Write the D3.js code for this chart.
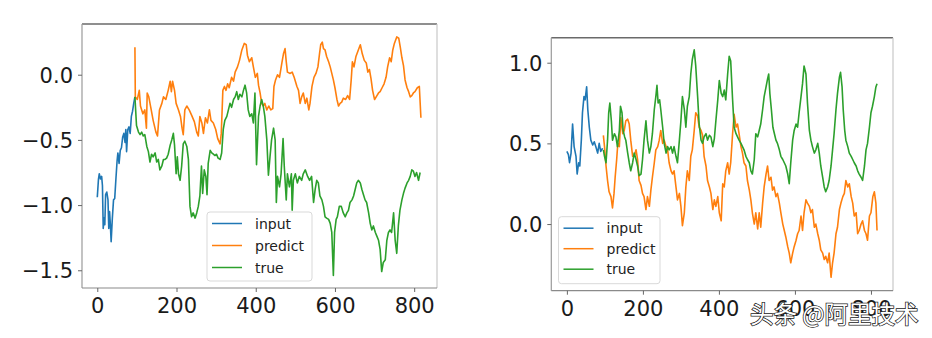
<!DOCTYPE html>
<html>
<head>
<meta charset="utf-8">
<script src="https://cdn.jsdelivr.net/npm/d3@7"></script>
<style>
  html, body { margin: 0; padding: 0; background: #fff; }
  svg { display: block; }
</style>
</head>
<body>
<svg id="chart" width="932" height="338"></svg>
<script>
// ---------------- DATA ----------------
const seriesNames = ["input", "predict", "true"];
const seriesColors = ["#1f77b4", "#ff7f0e", "#2ca02c"];
const xTickValues = [0, 200, 400, 600, 800];
const leftYTicks = [0.0, -0.5, -1.0, -1.5];
const rightYTicks = [0.0, 0.5, 1.0];
const watermarkText = "头条 @阿里技术";

// Left panel
const leftInput = [[0,-0.94],[3,-0.80],[5,-0.76],[8,-0.80],[11,-0.78],[13,-0.85],[15,-1.18],[17,-1.10],[19,-1.15],[21,-0.92],[24,-0.90],[27,-0.96],[29,-1.18],[31,-1.05],[33,-1.15],[35,-1.28],[38,-1.10],[41,-0.96],[44,-0.95],[47,-0.80],[50,-0.66],[52,-0.60],[55,-0.68],[58,-0.58],[61,-0.56],[64,-0.48],[67,-0.45],[70,-0.52],[72,-0.42],[74,-0.59],[77,-0.42],[80,-0.40],[83,-0.45],[86,-0.32],[89,-0.28],[92,-0.22],[95,-0.17]];

const leftPredict = [[95,0.21],[96,-0.17],[101,-0.19],[106,-0.12],[109,-0.24],[115,-0.30],[120,-0.27],[124,-0.41],[126,-0.14],[130,-0.17],[135,-0.25],[141,-0.35],[148,-0.44],[152,-0.47],[157,-0.27],[163,-0.22],[167,-0.17],[173,-0.19],[179,-0.12],[184,-0.05],[187,-0.13],[190,-0.05],[195,-0.12],[199,-0.22],[205,-0.27],[210,-0.32],[214,-0.41],[217,-0.46],[221,-0.27],[226,-0.24],[232,-0.27],[238,-0.31],[245,-0.36],[251,-0.44],[255,-0.47],[259,-0.32],[264,-0.37],[268,-0.45],[273,-0.33],[278,-0.37],[283,-0.27],[287,-0.35],[293,-0.37],[299,-0.42],[304,-0.49],[310,-0.53],[313,-0.45],[317,-0.12],[321,-0.09],[325,-0.12],[329,-0.07],[333,-0.10],[339,-0.02],[344,-0.05],[348,0.02],[354,0.06],[359,0.11],[365,0.19],[371,0.24],[376,0.23],[379,0.15],[384,0.10],[390,0.13],[394,0.06],[399,-0.02],[404,0.01],[407,-0.08],[411,-0.14],[415,-0.22],[419,-0.24],[423,-0.22],[428,-0.27],[433,-0.24],[438,-0.27],[443,-0.26],[446,-0.09],[450,-0.04],[455,0.00],[460,-0.02],[466,0.09],[470,0.16],[474,0.20],[477,0.10],[480,0.02],[487,0.01],[492,0.02],[497,-0.02],[504,-0.09],[508,-0.12],[512,-0.22],[516,-0.17],[520,-0.14],[525,-0.22],[529,-0.18],[534,-0.27],[537,-0.22],[542,-0.09],[547,-0.02],[552,0.01],[557,0.06],[561,0.16],[564,0.23],[568,0.25],[571,0.20],[575,0.19],[579,0.14],[584,0.10],[588,0.06],[592,0.01],[596,-0.04],[600,-0.10],[605,-0.19],[609,-0.24],[613,-0.22],[617,-0.21],[621,-0.18],[627,-0.19],[632,-0.16],[637,-0.19],[641,-0.04],[644,0.10],[648,0.06],[653,0.14],[659,0.19],[664,0.23],[669,0.16],[674,0.11],[679,0.09],[683,0.02],[687,0.04],[691,-0.03],[695,-0.12],[700,-0.19],[706,-0.16],[710,-0.14],[714,-0.13],[719,-0.10],[724,-0.07],[729,-0.02],[733,0.06],[738,0.13],[742,0.10],[746,0.19],[750,0.24],[756,0.29],[761,0.28],[765,0.21],[769,0.13],[773,0.07],[777,-0.04],[782,-0.10],[786,-0.13],[790,-0.17],[794,-0.16],[798,-0.14],[802,-0.13],[808,-0.10],[813,-0.09],[817,-0.33]];

const leftTrue = [[95,-0.17],[99,-0.39],[104,-0.44],[108,-0.46],[112,-0.44],[116,-0.47],[120,-0.46],[125,-0.55],[129,-0.59],[133,-0.67],[137,-0.61],[141,-0.63],[146,-0.60],[150,-0.67],[154,-0.65],[158,-0.73],[163,-0.70],[167,-0.65],[171,-0.65],[175,-0.64],[179,-0.61],[184,-0.54],[188,-0.50],[192,-0.45],[195,-0.54],[199,-0.76],[202,-0.63],[205,-0.76],[209,-0.81],[213,-0.70],[217,-0.53],[221,-0.51],[226,-0.55],[230,-0.65],[234,-1.01],[238,-1.09],[242,-1.06],[247,-1.10],[251,-1.06],[255,-1.01],[259,-0.93],[263,-0.70],[266,-0.91],[270,-0.73],[274,-0.78],[277,-0.92],[280,-0.68],[285,-0.58],[289,-0.60],[293,-0.61],[297,-0.62],[301,-0.61],[305,-0.64],[310,-0.65],[314,-0.60],[318,-0.42],[322,-0.35],[327,-0.32],[331,-0.27],[335,-0.22],[339,-0.25],[344,-0.19],[348,-0.17],[352,-0.13],[356,-0.19],[360,-0.15],[365,-0.17],[369,-0.12],[373,-0.08],[377,-0.14],[381,-0.27],[385,-0.32],[390,-0.30],[394,-0.37],[398,-0.14],[402,-0.69],[407,-0.32],[411,-0.24],[415,-0.19],[419,-0.24],[423,-0.32],[428,-0.50],[432,-0.77],[436,-0.63],[440,-0.50],[445,-0.41],[449,-0.50],[452,-0.98],[455,-0.78],[460,-0.86],[464,-0.76],[469,-0.49],[472,-0.70],[477,-0.96],[480,-0.76],[485,-0.86],[490,-0.76],[492,-1.04],[495,-0.81],[500,-0.76],[505,-0.83],[510,-0.78],[516,-0.81],[520,-0.76],[525,-0.73],[531,-0.78],[536,-0.81],[541,-0.78],[546,-0.98],[550,-0.88],[554,-0.81],[558,-0.83],[562,-0.93],[567,-0.96],[571,-1.01],[575,-1.09],[579,-1.10],[584,-1.11],[588,-1.14],[592,-1.21],[596,-1.54],[599,-1.21],[603,-1.11],[606,-1.09],[611,-1.01],[616,-1.01],[621,-1.06],[626,-1.09],[630,-1.06],[634,-1.04],[638,-0.98],[643,-0.96],[647,-0.93],[651,-0.88],[655,-0.83],[659,-0.81],[664,-0.83],[668,-0.88],[672,-0.92],[676,-0.96],[680,-0.98],[685,-1.06],[689,-1.14],[693,-1.19],[697,-1.16],[702,-1.21],[706,-1.24],[710,-1.27],[714,-1.34],[718,-1.51],[722,-1.44],[727,-1.42],[731,-1.27],[735,-1.21],[739,-1.19],[743,-1.21],[748,-1.06],[752,-1.27],[756,-1.37],[760,-1.16],[764,-1.04],[769,-0.96],[773,-0.91],[777,-0.87],[782,-0.83],[786,-0.81],[790,-0.78],[794,-0.73],[798,-0.74],[802,-0.78],[806,-0.75],[811,-0.81],[815,-0.75]];

// Right panel
const rightInput = [[0,0.45],[4,0.43],[7,0.38],[11,0.44],[15,0.62],[19,0.48],[24,0.42],[27,0.31],[31,0.38],[34,0.36],[38,0.52],[41,0.69],[45,0.79],[48,0.77],[52,0.85],[55,0.71],[59,0.60],[63,0.52],[68,0.49],[72,0.51],[76,0.48],[81,0.44],[85,0.50],[89,0.45],[94,0.47]];

const rightPredict = [[96,0.55],[99,0.48],[103,0.36],[107,0.27],[111,0.20],[116,0.17],[120,0.10],[124,0.19],[127,0.29],[131,0.40],[134,0.50],[138,0.48],[142,0.66],[147,0.56],[151,0.58],[155,0.64],[160,0.65],[164,0.62],[168,0.52],[173,0.42],[177,0.42],[182,0.46],[186,0.40],[190,0.27],[195,0.24],[199,0.19],[203,0.17],[208,0.09],[212,0.17],[217,0.11],[221,0.21],[225,0.29],[230,0.38],[234,0.46],[239,0.48],[243,0.52],[247,0.58],[252,0.50],[256,0.52],[261,0.48],[265,0.46],[269,0.38],[274,0.33],[278,0.31],[282,0.33],[287,0.23],[291,0.15],[296,0.19],[300,0.11],[304,-0.01],[309,0.07],[313,0.23],[317,0.33],[322,0.27],[326,0.42],[330,0.46],[335,0.58],[339,0.69],[344,0.67],[348,0.60],[353,0.58],[357,0.55],[361,0.42],[366,0.36],[370,0.27],[375,0.23],[379,0.19],[384,0.09],[388,0.15],[392,0.11],[397,0.17],[401,0.07],[406,0.02],[410,0.25],[414,0.23],[418,0.33],[423,0.38],[427,0.31],[431,0.38],[436,0.56],[440,0.68],[445,0.60],[449,0.62],[453,0.56],[458,0.48],[462,0.44],[466,0.38],[471,0.36],[475,0.27],[480,0.21],[484,0.15],[488,0.07],[493,0.00],[497,0.07],[502,-0.03],[506,0.07],[510,-0.02],[515,0.13],[519,0.23],[524,0.31],[528,0.36],[532,0.27],[537,0.29],[541,0.21],[545,0.23],[550,0.17],[554,0.19],[559,0.13],[563,0.07],[568,0.00],[572,-0.04],[576,-0.08],[581,-0.14],[585,-0.18],[589,-0.24],[594,-0.18],[598,-0.14],[603,-0.10],[607,-0.06],[611,-0.04],[616,0.05],[620,-0.04],[624,0.07],[629,0.15],[633,0.13],[638,0.11],[642,0.07],[646,0.09],[651,-0.02],[655,0.00],[660,-0.06],[664,-0.10],[668,-0.16],[673,-0.18],[677,-0.22],[681,-0.20],[686,-0.24],[690,-0.18],[695,-0.33],[699,-0.24],[703,-0.18],[708,-0.06],[712,-0.02],[717,0.09],[721,0.13],[726,0.17],[730,0.19],[734,0.27],[739,0.23],[743,0.25],[748,0.17],[752,0.13],[756,0.05],[761,0.07],[765,-0.06],[769,-0.04],[774,0.00],[778,0.02],[783,-0.04],[787,-0.06],[791,-0.10],[796,0.05],[800,0.07],[805,0.17],[809,0.20],[813,0.13],[816,-0.04]];

const rightTrue = [[96,0.46],[99,0.42],[103,0.38],[107,0.52],[110,0.69],[113,0.75],[117,0.64],[120,0.52],[125,0.56],[129,0.54],[133,0.48],[138,0.58],[141,0.73],[145,0.69],[148,0.58],[152,0.54],[155,0.52],[160,0.44],[164,0.38],[168,0.33],[173,0.38],[177,0.44],[182,0.40],[186,0.36],[190,0.30],[195,0.31],[199,0.40],[203,0.52],[208,0.64],[212,0.52],[217,0.44],[221,0.48],[225,0.56],[230,0.71],[234,0.79],[237,0.86],[240,0.75],[244,0.77],[247,0.71],[252,0.60],[256,0.50],[261,0.44],[265,0.48],[269,0.46],[274,0.48],[278,0.44],[282,0.48],[287,0.42],[291,0.38],[296,0.52],[300,0.64],[304,0.79],[309,0.71],[313,0.60],[317,0.73],[322,0.79],[326,0.93],[330,1.02],[335,1.08],[339,0.98],[344,0.79],[348,0.62],[353,0.52],[357,0.50],[361,0.54],[366,0.56],[370,0.52],[375,0.55],[379,0.54],[384,0.48],[388,0.53],[392,0.64],[397,0.77],[401,0.89],[406,0.81],[410,0.79],[414,0.83],[418,0.77],[423,0.93],[427,1.04],[431,1.01],[436,0.77],[440,0.60],[445,0.56],[449,0.54],[453,0.52],[458,0.50],[462,0.48],[466,0.46],[471,0.42],[475,0.40],[480,0.38],[484,0.33],[488,0.31],[493,0.40],[497,0.56],[502,0.54],[506,0.58],[510,0.62],[515,0.71],[519,0.79],[524,0.85],[528,0.90],[531,0.93],[534,0.81],[538,0.71],[542,0.60],[546,0.56],[550,0.52],[554,0.50],[559,0.46],[563,0.42],[568,0.40],[572,0.38],[576,0.36],[581,0.31],[585,0.25],[589,0.38],[594,0.52],[598,0.58],[603,0.62],[607,0.60],[611,0.69],[616,0.79],[620,0.87],[624,0.98],[629,0.93],[633,0.75],[638,0.58],[642,0.52],[646,0.48],[651,0.44],[655,0.46],[660,0.50],[664,0.44],[668,0.36],[673,0.29],[677,0.23],[681,0.20],[686,0.23],[690,0.27],[695,0.36],[699,0.46],[703,0.56],[708,0.71],[712,0.81],[717,0.91],[720,0.94],[724,0.85],[727,0.71],[731,0.58],[734,0.52],[739,0.48],[743,0.44],[748,0.42],[752,0.40],[756,0.38],[761,0.36],[765,0.33],[769,0.31],[774,0.29],[778,0.27],[783,0.36],[787,0.46],[791,0.50],[796,0.60],[800,0.69],[804,0.73],[809,0.79],[813,0.85],[816,0.87]];

// ---------------- DRAWING ----------------
const svg = d3.select("#chart");
const FONT = "'DejaVu Sans', sans-serif";

function drawPanel(cfg) {
  const x = d3.scaleLinear().domain(cfg.xDomain).range([cfg.left, cfg.right]);
  const y = d3.scaleLinear().domain(cfg.yDomain).range([cfg.bottom, cfg.top]);
  const g = svg.append("g");

  // series
  const line = d3.line().x(d => x(d[0])).y(d => y(d[1]));
  cfg.series.forEach((s, i) => {
    g.append("path")
      .datum(s)
      .attr("fill", "none")
      .attr("stroke", seriesColors[i])
      .attr("stroke-width", 1.6)
      .attr("stroke-linejoin", "round")
      .attr("d", line);
  });

  // frame (spines)
  g.append("line").attr("x1", cfg.left).attr("x2", cfg.right).attr("y1", cfg.top).attr("y2", cfg.top)
    .attr("stroke", "#6a6a6a").attr("stroke-width", 1.4);
  g.append("line").attr("x1", cfg.right).attr("x2", cfg.right).attr("y1", cfg.top).attr("y2", cfg.bottom)
    .attr("stroke", "#c8c8c8").attr("stroke-width", 1.2);
  g.append("line").attr("x1", cfg.left).attr("x2", cfg.left).attr("y1", cfg.top).attr("y2", cfg.bottom)
    .attr("stroke", "#9a9a9a").attr("stroke-width", 1.2);
  g.append("line").attr("x1", cfg.left).attr("x2", cfg.right).attr("y1", cfg.bottom).attr("y2", cfg.bottom)
    .attr("stroke", "#8a8a8a").attr("stroke-width", 1.2);

  // axes
  const xAxis = d3.axisBottom(x).tickValues(xTickValues).tickSize(4).tickPadding(6).tickFormat(d3.format("d"));
  const yAxis = d3.axisLeft(y).tickValues(cfg.yTicks).tickSize(4).tickPadding(5).tickFormat(d3.format(".1f"));
  const gx = g.append("g").attr("transform", `translate(0,${cfg.bottom})`).call(xAxis);
  const gy = g.append("g").attr("transform", `translate(${cfg.left},0)`).call(yAxis);
  [gx, gy].forEach(a => {
    a.select(".domain").remove();
    a.selectAll(".tick line").attr("stroke", "#666").attr("stroke-width", 1);
    a.selectAll(".tick text").attr("font-family", FONT).attr("font-size", 21).attr("fill", "#1a1a1a");
  });
  gx.selectAll(".tick text").attr("dy", "0.71em");
  gy.selectAll(".tick text").attr("dy", "0.36em");

  // legend
  const L = cfg.legend;
  const lg = g.append("g");
  lg.append("rect")
    .attr("x", L.x).attr("y", L.y).attr("width", L.w).attr("height", L.h)
    .attr("rx", 3).attr("ry", 3)
    .attr("fill", "#fff").attr("fill-opacity", 0.85)
    .attr("stroke", "#d9d9d9").attr("stroke-width", 1);
  seriesNames.forEach((name, i) => {
    const yy = L.y + L.firstRow + i * L.rowGap;
    lg.append("line")
      .attr("x1", L.x + 5).attr("x2", L.x + 35)
      .attr("y1", yy).attr("y2", yy)
      .attr("stroke", seriesColors[i]).attr("stroke-width", 1.5);
    lg.append("text")
      .attr("x", L.x + 48).attr("y", yy).attr("dy", "0.36em")
      .attr("font-family", FONT).attr("font-size", 14).attr("fill", "#222")
      .text(name);
  });
}

drawPanel({
  left: 82, right: 437, top: 24, bottom: 288,
  xDomain: [-38.6, 857.6], yDomain: [-1.636, 0.389],
  yTicks: leftYTicks,
  series: [leftInput, leftPredict, leftTrue],
  legend: { x: 207, y: 212, w: 105, h: 69, firstRow: 11.5, rowGap: 22 }
});

drawPanel({
  left: 551.3, right: 893, top: 37.7, bottom: 290.7,
  xDomain: [-41, 858], yDomain: [-0.413, 1.155],
  yTicks: rightYTicks,
  series: [rightInput, rightPredict, rightTrue],
  legend: { x: 558.5, y: 216.7, w: 101.5, h: 67, firstRow: 11.5, rowGap: 20.5 }
});

// watermark (overlaps the right panel's tick labels, as in the reference)
svg.append("text")
  .attr("x", 750).attr("y", 323)
  .attr("font-family", "'Noto Sans CJK SC', sans-serif")
  .attr("font-size", 23.5)
  .attr("fill", "#ffffff")
  .attr("stroke", "#222").attr("stroke-width", 1.5)
  .attr("paint-order", "stroke")
  .text(watermarkText);
</script>
</body>
</html>
